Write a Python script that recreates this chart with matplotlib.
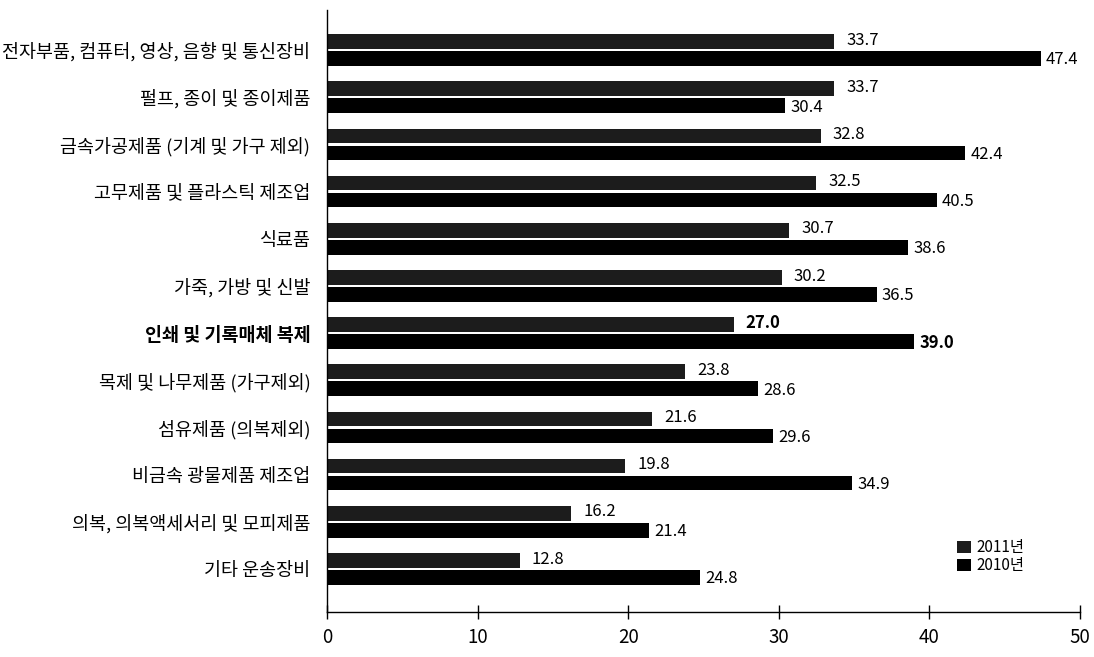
import matplotlib
matplotlib.use("Agg")
import matplotlib.pyplot as plt
import numpy as np

plt.rcParams['font.family'] = ['Noto Sans CJK KR', 'DejaVu Sans']

categories = [
    "전자부품, 컴퓨터, 영상, 음향 및 통신장비",
    "펄프, 종이 및 종이제품",
    "금속가공제품 (기계 및 가구 제외)",
    "고무제품 및 플라스틱 제조업",
    "식료품",
    "가죽, 가방 및 신발",
    "인쇄 및 기록매체 복제",
    "목제 및 나무제품 (가구제외)",
    "섬유제품 (의복제외)",
    "비금속 광물제품 제조업",
    "의복, 의복액세서리 및 모피제품",
    "기타 운송장비",
]
values_2011 = [33.7, 33.7, 32.8, 32.5, 30.7, 30.2, 27.0, 23.8, 21.6, 19.8, 16.2, 12.8]
values_2010 = [47.4, 30.4, 42.4, 40.5, 38.6, 36.5, 39.0, 28.6, 29.6, 34.9, 21.4, 24.8]
highlight = "인쇄 및 기록매체 복제"
xticks = [0, 10, 20, 30, 40, 50]

fig = plt.figure(figsize=(10.94, 6.57), dpi=100)
ax = fig.add_axes([0.299, 0.0685, 0.688, 0.9165])

y = np.arange(len(categories))
h = 0.31
off = 0.18
ax.barh(y - off, values_2011, height=h, color="#1c1c1c", label="2011년")
ax.barh(y + off, values_2010, height=h, color="#000000", label="2010년")

for i, (a, b) in enumerate(zip(values_2011, values_2010)):
    bold = categories[i] == highlight
    fw = "bold" if bold else "normal"
    ax.text(a + 0.8, i - off - 0.03, f"{a:.1f}", va="center", ha="left",
            fontsize=12, fontweight=fw)
    ax.text(b + 0.35, i + off + 0.03, f"{b:.1f}", va="center", ha="left",
            fontsize=12, fontweight=fw)

ax.set_ylim(11.91, -0.85)
ax.set_xlim(0, 50)
ax.set_xticks(xticks)
ax.set_xticklabels([str(t) for t in xticks], fontsize=13.5)
ax.set_yticks(y)
ax.set_yticklabels(categories, fontsize=13.3)
for lbl in ax.get_yticklabels():
    if lbl.get_text() == highlight:
        lbl.set_fontweight("bold")
ax.tick_params(axis="y", length=0, pad=12)
ax.tick_params(axis="x", direction="inout", length=10, width=1, pad=6)

for s in ["top", "right"]:
    ax.spines[s].set_visible(False)
ax.spines["left"].set_linewidth(1)
ax.spines["bottom"].set_linewidth(1)

ax.legend(loc="lower right", bbox_to_anchor=(0.945, 0.04), frameon=False,
          fontsize=11, handlelength=0.9, handleheight=0.9, handletextpad=0.4,
          labelspacing=0.05)

fig.savefig("out.png", dpi=100)
